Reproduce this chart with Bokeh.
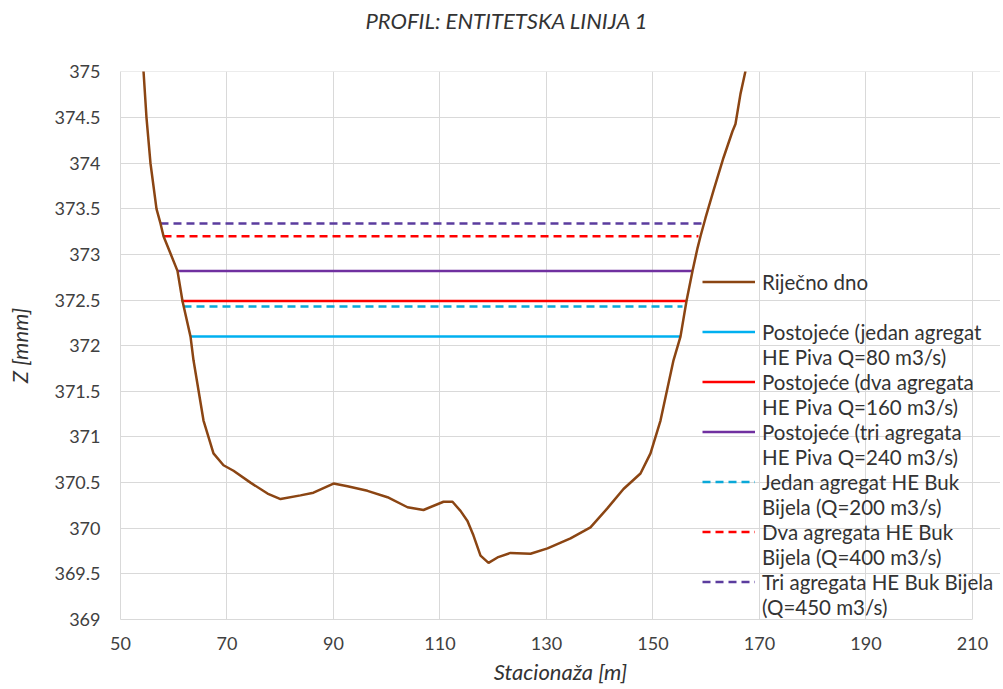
from bokeh.plotting import figure
from bokeh.models import Legend, LegendItem, FixedTicker, Range1d
from bokeh.embed import file_html
from bokeh.resources import INLINE

# ---- data ----
station = [54.32, 54.88, 55.63, 56.76, 57.51, 58.08, 59.39, 60.70, 61.64, 63.15, 63.71,
           65.59, 67.46, 69.34, 71.22, 74.41, 77.61, 80.05, 83.80, 86.24, 90.00, 92.63,
           96.38, 100.14, 103.90, 106.90, 110.66, 112.35, 113.85, 115.16, 116.29, 117.61,
           119.11, 120.80, 123.24, 127.00, 130.19, 134.51, 138.26, 141.46, 144.46, 147.65,
           149.53, 151.41, 153.85, 155.16, 156.29, 157.42, 158.36, 158.92, 159.86, 161.36,
           163.24, 164.93, 165.49, 166.43, 167.37]
bed_z = [375.01, 374.50, 374.00, 373.50, 373.34, 373.20, 373.01, 372.82, 372.49, 372.10, 371.84,
         371.18, 370.82, 370.69, 370.63, 370.50, 370.38, 370.32, 370.36, 370.39, 370.49, 370.46,
         370.41, 370.34, 370.23, 370.20, 370.29, 370.29, 370.19, 370.08, 369.92, 369.70,
         369.62, 369.68, 369.73, 369.72, 369.78, 369.89, 370.01, 370.22, 370.43, 370.60,
         370.82, 371.18, 371.84, 372.10, 372.49, 372.82, 373.07, 373.20, 373.40, 373.70,
         374.06, 374.35, 374.43, 374.76, 375.01]

bed_label = "Riječno dno"
level_labels = [
    ("Postojeće (jedan agregat", "HE Piva Q=80 m3/s)"),
    ("Postojeće (dva agregata", "HE Piva Q=160 m3/s)"),
    ("Postojeće (tri agregata", "HE Piva Q=240 m3/s)"),
    ("Jedan agregat HE Buk", "Bijela (Q=200 m3/s)"),
    ("Dva agregata HE Buk", "Bijela (Q=400 m3/s)"),
    ("Tri agregata HE Buk Bijela", "(Q=450 m3/s)"),
]
level_z = [372.10, 372.49, 372.82, 372.43, 373.20, 373.34]
level_x_start = [63.15, 61.46, 60.70, 61.83, 58.08, 57.51]
level_x_end = [155.16, 156.29, 157.42, 155.54, 158.54, 159.48]

x_ticks = [50, 70, 90, 110, 130, 150, 170, 190, 210]
y_tick_labels = ["369", "369.5", "370", "370.5", "371", "371.5", "372", "372.5",
                 "373", "373.5", "374", "374.5", "375"]
title_text = "PROFIL: ENTITETSKA LINIJA 1"
x_title = "Stacionaža [m]"
y_title = "Z [mnm]"

# ---- styles ----
level_colors = ["#00B0F0", "#FF0000", "#7030A0", "#0AA8D8", "#FF0000", "#5B3C9E"]
level_dash = ["solid", "solid", "solid", "8 5", "8 5", "8 5"]
bed_color = "#8B4513"
GRID = "#d9d9d9"
FONT = "Lato"
TXT = "#333333"
TICK_TXT = "#404040"

p = figure(width=1000, height=689, output_backend="svg", toolbar_location=None,
           x_range=Range1d(50, 215.26), y_range=Range1d(369, 375.005),
           min_border_left=120, min_border_right=0, min_border_top=71, min_border_bottom=70,
           title=title_text + "\n")
p.outline_line_color = None
p.background_fill_color = "white"

# chart title: a trailing blank line lifts it to the top of the border
p.title.align = "left"
p.title.offset = 245
p.title.standoff = 0
p.title.vertical_align = "bottom"
p.title.text_line_height = 1.38
p.title.text_font = FONT
p.title.text_font_style = "italic"
p.title.text_font_size = "22px"
p.title.text_color = TXT

# axes
xa = p.below[0]
ya = p.left[0]
xa.ticker = FixedTicker(ticks=x_ticks)
xa.bounds = (x_ticks[0], x_ticks[-1])
y_ticks = [float(s) for s in y_tick_labels]
ya.ticker = FixedTicker(ticks=y_ticks)
ya.major_label_overrides = {t: s for t, s in zip(y_ticks, y_tick_labels)}
for ax in (xa, ya):
    ax.major_tick_line_color = None
    ax.minor_tick_line_color = None
    ax.major_tick_out = 0
    ax.major_tick_in = 0
    ax.major_label_text_font = FONT
    ax.major_label_text_font_size = "18px"
    ax.major_label_text_color = TICK_TXT
    ax.axis_label_text_font = FONT
    ax.axis_label_text_font_style = "italic"
    ax.axis_label_text_font_size = "22px"
    ax.axis_label_text_color = TXT
    ax.axis_line_color = GRID
xa.axis_label = x_title
ya.axis_label = y_title
xa.major_label_standoff = 17
xa.axis_label_standoff = 5
ya.major_label_standoff = 20
ya.axis_label_standoff = 18

p.xgrid.ticker = FixedTicker(ticks=x_ticks)
p.ygrid.ticker = FixedTicker(ticks=y_ticks)
p.xgrid.grid_line_color = GRID
p.ygrid.grid_line_color = GRID

# water levels
level_renderers = []
for z, x0, x1, c, d in zip(level_z, level_x_start, level_x_end, level_colors, level_dash):
    r = p.line(x=[x0, x1], y=[z, z], line_color=c, line_width=2.5, line_dash=d)
    level_renderers.append(r)

# river bed
bed = p.line(x=station, y=bed_z, line_color=bed_color, line_width=2.5)

# invisible renderer for text-only legend rows
blank = p.line(x=[], y=[], line_alpha=0)

items = [LegendItem(label=bed_label, renderers=[bed]),
         LegendItem(label=" ", renderers=[blank])]
for (l1, l2), r in zip(level_labels, level_renderers):
    items.append(LegendItem(label=l1, renderers=[r]))
    items.append(LegendItem(label=l2, renderers=[blank]))

legend = Legend(items=items, location=(582, 0))
legend.padding = 0
legend.margin = 0
legend.spacing = 0
legend.label_height = 25
legend.glyph_height = 25
legend.glyph_width = 53
legend.label_standoff = 7
legend.label_text_font = FONT
legend.label_text_font_size = "20.5px"
legend.label_text_line_height = 1.0
legend.label_text_color = TXT
legend.border_line_color = None
legend.background_fill_alpha = 0
p.add_layout(legend, "center")

open("out.html", "w").write(file_html(p, INLINE))
